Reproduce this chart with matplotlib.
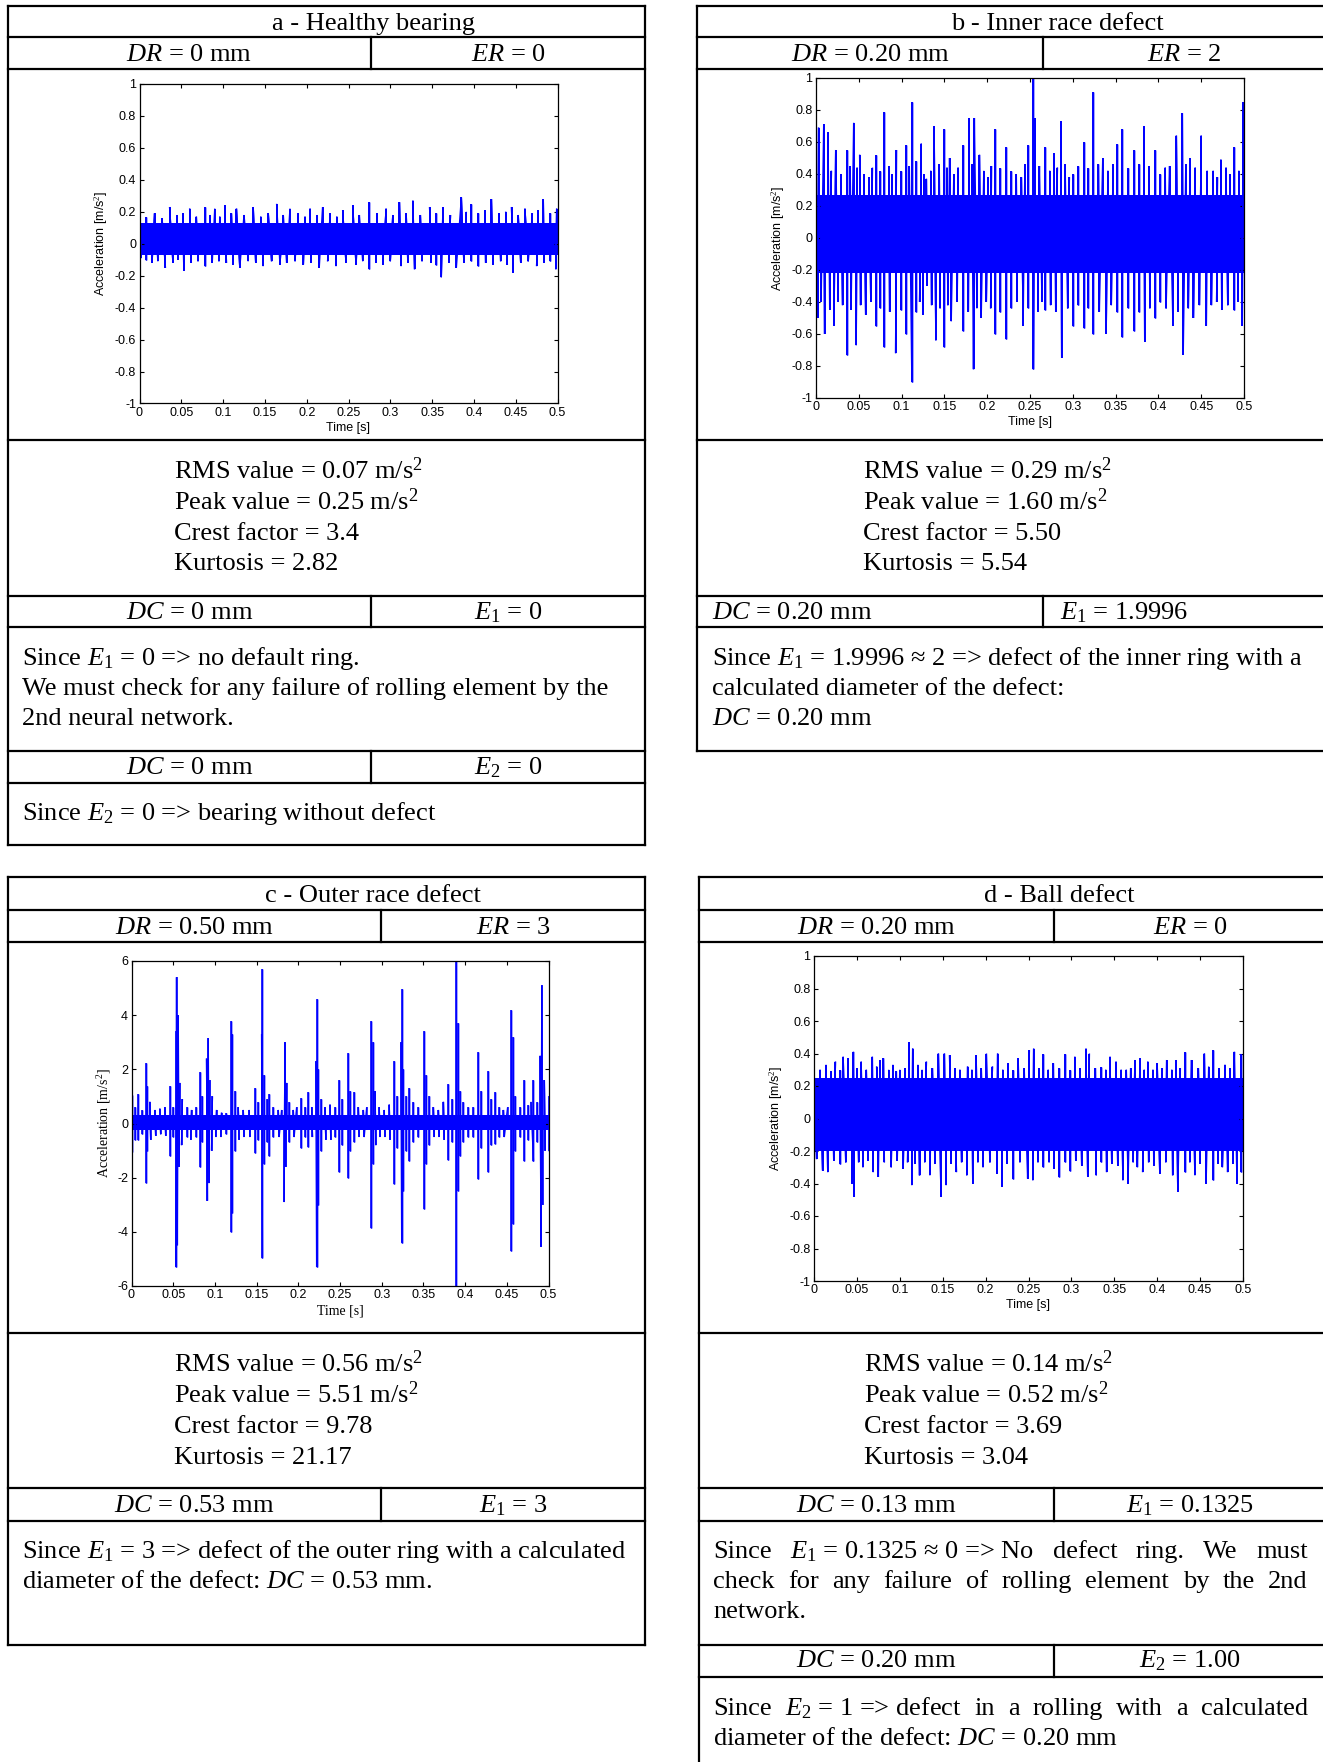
import matplotlib
matplotlib.use("Agg")
import matplotlib.pyplot as plt
from matplotlib.collections import LineCollection
from matplotlib.ticker import FuncFormatter, MultipleLocator

plt.rcParams["axes.unicode_minus"] = False
plt.rcParams["mathtext.fontset"] = "custom"
plt.rcParams["mathtext.rm"] = "Liberation Serif"
plt.rcParams["mathtext.it"] = "Liberation Serif:italic"
plt.rcParams["mathtext.bf"] = "Liberation Serif:bold"

W, H = 1323, 1762

# ---- table contents ----
titles = ["a - Healthy bearing", "b - Inner race defect",
          "c - Outer race defect", "d - Ball defect"]
dr_vals = ["0 mm", "0.20 mm", "0.50 mm", "0.20 mm"]
er_vals = ["0", "2", "3", "0"]
rms_vals = ["0.07", "0.29", "0.56", "0.14"]
peak_vals = ["0.25", "1.60", "5.51", "0.52"]
crest_vals = ["3.4", "5.50", "9.78", "3.69"]
kurt_vals = ["2.82", "5.54", "21.17", "3.04"]
dc1_vals = ["0 mm", "0.20 mm", "0.53 mm", "0.13 mm"]
e1_vals = ["0", "1.9996", "3", "0.1325"]

# ---- signals: (time [s], acceleration) ----
# solid centre band of each record (low, high)
a_core = (-0.07, 0.13)
b_core = (-0.22, 0.27)
c_core = (-0.25, 0.30)
d_core = (-0.20, 0.25)

a_up = [(0.000, 0.24), (0.008, 0.17), (0.018, 0.19), (0.027, 0.16), (0.036, 0.23),
        (0.045, 0.18), (0.052, 0.19), (0.060, 0.22), (0.068, 0.17), (0.078, 0.23),
        (0.084, 0.18), (0.090, 0.22), (0.096, 0.17), (0.102, 0.24), (0.110, 0.19),
        (0.116, 0.22), (0.125, 0.18), (0.136, 0.23), (0.145, 0.17), (0.154, 0.19),
        (0.164, 0.25), (0.172, 0.18), (0.180, 0.22), (0.190, 0.19), (0.198, 0.17),
        (0.204, 0.22), (0.212, 0.18), (0.219, 0.23), (0.228, 0.19), (0.236, 0.17),
        (0.243, 0.21), (0.255, 0.24), (0.263, 0.18), (0.275, 0.26), (0.284, 0.19),
        (0.295, 0.22), (0.303, 0.18), (0.311, 0.26), (0.319, 0.19), (0.327, 0.27),
        (0.336, 0.18), (0.347, 0.23), (0.355, 0.19), (0.363, 0.23), (0.372, 0.18),
        (0.385, 0.29), (0.391, 0.20), (0.397, 0.25), (0.405, 0.19), (0.413, 0.21),
        (0.421, 0.28), (0.430, 0.19), (0.438, 0.20), (0.445, 0.23), (0.453, 0.18),
        (0.461, 0.22), (0.470, 0.19), (0.477, 0.21), (0.483, 0.28), (0.491, 0.19),
        (0.499, 0.22)]
a_dn = [(0.002, -0.09), (0.008, -0.10), (0.015, -0.12), (0.022, -0.11), (0.031, -0.15),
        (0.040, -0.12), (0.046, -0.10), (0.053, -0.17), (0.062, -0.12), (0.070, -0.11),
        (0.078, -0.14), (0.087, -0.12), (0.095, -0.11), (0.104, -0.12), (0.112, -0.13),
        (0.120, -0.15), (0.130, -0.11), (0.139, -0.12), (0.148, -0.14), (0.158, -0.11),
        (0.168, -0.13), (0.176, -0.12), (0.186, -0.11), (0.196, -0.13), (0.205, -0.12),
        (0.215, -0.15), (0.225, -0.11), (0.235, -0.14), (0.247, -0.12), (0.259, -0.13),
        (0.267, -0.11), (0.275, -0.16), (0.283, -0.12), (0.291, -0.13), (0.300, -0.11),
        (0.313, -0.14), (0.321, -0.12), (0.329, -0.16), (0.338, -0.11), (0.349, -0.12),
        (0.355, -0.13), (0.361, -0.21), (0.370, -0.12), (0.379, -0.15), (0.388, -0.12),
        (0.397, -0.11), (0.405, -0.14), (0.414, -0.12), (0.423, -0.13), (0.432, -0.11),
        (0.440, -0.13), (0.447, -0.18), (0.456, -0.12), (0.465, -0.11), (0.475, -0.14),
        (0.484, -0.12), (0.491, -0.11), (0.498, -0.16)]

b_up = [(0.003, 0.69), (0.009, 0.71), (0.014, 0.66), (0.018, 0.42), (0.023, 0.55),
        (0.029, 0.40), (0.036, 0.55), (0.040, 0.45), (0.044, 0.72), (0.048, 0.44),
        (0.051, 0.52), (0.056, 0.40), (0.062, 0.38), (0.066, 0.44), (0.070, 0.52),
        (0.075, 0.42), (0.080, 0.79), (0.085, 0.45), (0.089, 0.40), (0.094, 0.55),
        (0.099, 0.42), (0.105, 0.58), (0.109, 0.45), (0.112, 0.85), (0.117, 0.48),
        (0.123, 0.59), (0.126, 0.40), (0.129, 0.37), (0.134, 0.42), (0.138, 0.70),
        (0.144, 0.46), (0.150, 0.68), (0.153, 0.44), (0.156, 0.50), (0.161, 0.40),
        (0.166, 0.44), (0.172, 0.58), (0.179, 0.75), (0.182, 0.46), (0.185, 0.75),
        (0.191, 0.52), (0.196, 0.42), (0.201, 0.38), (0.205, 0.45), (0.209, 0.68),
        (0.215, 0.44), (0.222, 0.57), (0.228, 0.42), (0.234, 0.40), (0.240, 0.38),
        (0.244, 0.46), (0.248, 0.58), (0.254, 1.00), (0.256, 0.75), (0.261, 0.45),
        (0.268, 0.57), (0.273, 0.42), (0.278, 0.53), (0.282, 0.44), (0.286, 0.73),
        (0.291, 0.46), (0.296, 0.38), (0.300, 0.40), (0.306, 0.45), (0.313, 0.60),
        (0.318, 0.44), (0.324, 0.91), (0.330, 0.46), (0.335, 0.50), (0.341, 0.42),
        (0.347, 0.46), (0.352, 0.59), (0.358, 0.68), (0.364, 0.44), (0.371, 0.55),
        (0.377, 0.46), (0.383, 0.70), (0.389, 0.45), (0.396, 0.55), (0.402, 0.40),
        (0.408, 0.44), (0.413, 0.45), (0.421, 0.64), (0.428, 0.78), (0.432, 0.46),
        (0.437, 0.50), (0.443, 0.44), (0.450, 0.64), (0.457, 0.42), (0.464, 0.42),
        (0.469, 0.38), (0.473, 0.49), (0.479, 0.44), (0.484, 0.40), (0.488, 0.57),
        (0.494, 0.42), (0.499, 0.85)]
b_dn = [(0.002, -0.50), (0.006, -0.40), (0.010, -0.60), (0.016, -0.45), (0.021, -0.55),
        (0.026, -0.40), (0.031, -0.42), (0.036, -0.73), (0.041, -0.45), (0.047, -0.67),
        (0.052, -0.42), (0.058, -0.48), (0.064, -0.40), (0.070, -0.55), (0.075, -0.44),
        (0.080, -0.68), (0.086, -0.46), (0.093, -0.72), (0.099, -0.45), (0.105, -0.60),
        (0.112, -0.90), (0.117, -0.46), (0.121, -0.40), (0.125, -0.48), (0.130, -0.30),
        (0.135, -0.42), (0.140, -0.64), (0.145, -0.44), (0.150, -0.68), (0.154, -0.42),
        (0.158, -0.52), (0.165, -0.40), (0.172, -0.58), (0.178, -0.46), (0.184, -0.82),
        (0.188, -0.44), (0.193, -0.50), (0.199, -0.40), (0.204, -0.44), (0.209, -0.60),
        (0.215, -0.46), (0.222, -0.63), (0.228, -0.44), (0.235, -0.40), (0.242, -0.55),
        (0.248, -0.44), (0.254, -0.82), (0.259, -0.46), (0.264, -0.40), (0.268, -0.45),
        (0.274, -0.42), (0.280, -0.46), (0.287, -0.75), (0.294, -0.44), (0.300, -0.55),
        (0.306, -0.42), (0.313, -0.56), (0.318, -0.44), (0.324, -0.60), (0.331, -0.46),
        (0.339, -0.60), (0.345, -0.42), (0.352, -0.46), (0.358, -0.62), (0.364, -0.44),
        (0.371, -0.58), (0.377, -0.46), (0.384, -0.65), (0.390, -0.44), (0.396, -0.50),
        (0.402, -0.40), (0.409, -0.44), (0.417, -0.55), (0.423, -0.46), (0.429, -0.73),
        (0.435, -0.44), (0.441, -0.50), (0.448, -0.42), (0.456, -0.55), (0.462, -0.42),
        (0.468, -0.40), (0.474, -0.45), (0.481, -0.42), (0.488, -0.45), (0.493, -0.40),
        (0.498, -0.55)]

c_up = [(0.000, 1.05), (0.004, 0.60), (0.008, 1.10), (0.012, 0.50), (0.017, 2.25),
        (0.019, 1.40), (0.022, 0.80), (0.028, 0.50), (0.034, 0.55), (0.040, 0.60),
        (0.046, 1.40), (0.050, 0.60), (0.053, 3.40), (0.054, 5.40), (0.056, 4.00),
        (0.058, 1.50), (0.061, 0.90), (0.066, 0.60), (0.072, 0.50), (0.077, 0.60),
        (0.082, 1.90), (0.085, 1.00), (0.090, 2.40), (0.092, 3.15), (0.094, 1.60),
        (0.097, 1.00), (0.102, 0.50), (0.108, 0.40), (0.113, 0.40), (0.119, 3.80),
        (0.121, 3.30), (0.124, 1.20), (0.128, 0.60), (0.134, 0.50), (0.141, 0.50),
        (0.148, 1.30), (0.152, 0.80), (0.156, 3.30), (0.157, 5.70), (0.159, 1.80),
        (0.162, 0.90), (0.165, 1.10), (0.170, 0.60), (0.176, 0.50), (0.180, 0.50),
        (0.184, 3.00), (0.186, 1.50), (0.189, 0.80), (0.194, 0.50), (0.198, 0.60),
        (0.203, 0.95), (0.208, 0.60), (0.212, 1.15), (0.216, 0.60), (0.221, 2.30),
        (0.222, 4.60), (0.224, 2.00), (0.227, 0.90), (0.232, 0.60), (0.238, 0.70),
        (0.244, 0.60), (0.249, 1.60), (0.252, 0.90), (0.259, 2.60), (0.262, 1.20),
        (0.267, 1.15), (0.272, 0.60), (0.278, 0.50), (0.282, 0.60), (0.287, 3.80),
        (0.289, 3.00), (0.292, 1.20), (0.297, 0.60), (0.303, 0.50), (0.309, 0.70),
        (0.315, 2.30), (0.318, 1.00), (0.323, 3.00), (0.324, 4.95), (0.326, 2.00),
        (0.329, 1.00), (0.333, 1.30), (0.338, 0.80), (0.344, 0.60), (0.351, 3.40),
        (0.353, 1.80), (0.357, 1.00), (0.362, 0.60), (0.368, 0.50), (0.374, 0.80),
        (0.380, 1.45), (0.384, 0.90), (0.389, 6.00), (0.391, 3.70), (0.394, 1.20),
        (0.398, 0.80), (0.404, 0.60), (0.410, 0.60), (0.416, 2.65), (0.419, 1.20),
        (0.427, 1.95), (0.431, 0.90), (0.436, 1.15), (0.441, 0.60), (0.446, 0.50),
        (0.451, 0.60), (0.455, 4.20), (0.457, 3.20), (0.460, 1.00), (0.466, 0.60),
        (0.471, 1.60), (0.475, 0.70), (0.479, 0.80), (0.482, 1.60), (0.486, 0.80),
        (0.490, 2.50), (0.492, 5.10), (0.495, 1.60), (0.500, 1.00)]
c_dn = [(0.000, -1.05), (0.004, -0.60), (0.008, -0.60), (0.012, -0.40), (0.017, -2.20),
        (0.019, -1.00), (0.023, -0.60), (0.029, -0.45), (0.035, -0.40), (0.041, -0.45),
        (0.046, -1.20), (0.050, -0.50), (0.053, -5.30), (0.055, -4.50), (0.057, -1.60),
        (0.060, -0.80), (0.066, -0.50), (0.071, -0.60), (0.077, -0.50), (0.082, -1.60),
        (0.085, -0.70), (0.091, -2.85), (0.093, -2.20), (0.096, -1.00), (0.101, -0.50),
        (0.107, -0.50), (0.113, -0.40), (0.119, -4.00), (0.121, -3.30), (0.124, -1.00),
        (0.129, -0.60), (0.135, -0.50), (0.142, -0.50), (0.148, -1.10), (0.152, -0.60),
        (0.157, -4.95), (0.159, -1.50), (0.162, -0.70), (0.165, -1.20), (0.170, -0.50),
        (0.177, -0.50), (0.183, -2.90), (0.185, -1.60), (0.189, -0.70), (0.195, -0.50),
        (0.203, -0.90), (0.208, -0.50), (0.212, -0.85), (0.217, -0.50), (0.222, -5.30),
        (0.224, -3.00), (0.227, -1.00), (0.233, -0.60), (0.239, -0.60), (0.244, -0.50),
        (0.249, -1.80), (0.252, -0.80), (0.259, -2.00), (0.262, -1.00), (0.267, -0.70),
        (0.273, -0.50), (0.279, -0.50), (0.287, -3.85), (0.289, -1.50), (0.293, -0.80),
        (0.298, -0.50), (0.304, -0.50), (0.310, -0.60), (0.315, -2.25), (0.318, -0.90),
        (0.324, -4.40), (0.326, -2.50), (0.329, -1.00), (0.333, -1.40), (0.338, -0.70),
        (0.344, -0.50), (0.351, -3.15), (0.353, -1.50), (0.357, -0.80), (0.363, -0.50),
        (0.369, -0.50), (0.375, -0.60), (0.380, -1.35), (0.384, -0.70), (0.389, -6.00),
        (0.391, -2.50), (0.394, -1.20), (0.398, -0.70), (0.404, -0.50), (0.410, -0.50),
        (0.416, -2.05), (0.419, -0.90), (0.427, -1.80), (0.431, -0.80), (0.436, -0.75),
        (0.441, -0.50), (0.447, -0.50), (0.455, -4.70), (0.457, -3.70), (0.460, -1.00),
        (0.466, -0.50), (0.471, -1.40), (0.475, -0.60), (0.482, -1.40), (0.486, -0.70),
        (0.491, -4.55), (0.493, -3.00), (0.496, -1.00), (0.500, -1.00)]

d_up = [(0.001, 0.24), (0.007, 0.30), (0.014, 0.33), (0.020, 0.29), (0.025, 0.35),
        (0.030, 0.30), (0.034, 0.38), (0.040, 0.37), (0.046, 0.41), (0.050, 0.31),
        (0.055, 0.35), (0.061, 0.30), (0.068, 0.38), (0.073, 0.32), (0.077, 0.36),
        (0.081, 0.37), (0.087, 0.30), (0.092, 0.33), (0.096, 0.29), (0.100, 0.30),
        (0.106, 0.31), (0.111, 0.47), (0.115, 0.43), (0.121, 0.33), (0.126, 0.30),
        (0.131, 0.35), (0.138, 0.31), (0.145, 0.40), (0.152, 0.40), (0.158, 0.39),
        (0.164, 0.31), (0.170, 0.30), (0.179, 0.32), (0.184, 0.30), (0.189, 0.39),
        (0.195, 0.31), (0.201, 0.40), (0.208, 0.32), (0.214, 0.40), (0.220, 0.30),
        (0.226, 0.34), (0.232, 0.30), (0.238, 0.37), (0.245, 0.31), (0.251, 0.42),
        (0.256, 0.43), (0.262, 0.31), (0.267, 0.40), (0.273, 0.30), (0.279, 0.34),
        (0.286, 0.31), (0.292, 0.40), (0.298, 0.30), (0.304, 0.38), (0.310, 0.31),
        (0.317, 0.43), (0.321, 0.40), (0.328, 0.31), (0.335, 0.32), (0.340, 0.30),
        (0.345, 0.38), (0.352, 0.35), (0.358, 0.30), (0.364, 0.30), (0.369, 0.31),
        (0.374, 0.36), (0.380, 0.37), (0.385, 0.30), (0.389, 0.35), (0.395, 0.30),
        (0.400, 0.34), (0.406, 0.31), (0.411, 0.36), (0.417, 0.30), (0.422, 0.36),
        (0.427, 0.31), (0.432, 0.41), (0.440, 0.36), (0.448, 0.31), (0.455, 0.40),
        (0.460, 0.32), (0.465, 0.42), (0.472, 0.31), (0.479, 0.33), (0.485, 0.31),
        (0.490, 0.41), (0.498, 0.40)]
d_dn = [(0.003, -0.25), (0.010, -0.32), (0.016, -0.33), (0.023, -0.26), (0.030, -0.28),
        (0.037, -0.27), (0.044, -0.40), (0.047, -0.48), (0.052, -0.27), (0.057, -0.30),
        (0.063, -0.26), (0.069, -0.33), (0.075, -0.36), (0.082, -0.27), (0.090, -0.30),
        (0.097, -0.26), (0.104, -0.31), (0.109, -0.27), (0.114, -0.41), (0.118, -0.28),
        (0.123, -0.35), (0.129, -0.27), (0.135, -0.35), (0.141, -0.28), (0.148, -0.48),
        (0.154, -0.41), (0.160, -0.28), (0.166, -0.33), (0.172, -0.27), (0.178, -0.35),
        (0.185, -0.40), (0.191, -0.27), (0.197, -0.30), (0.205, -0.27), (0.213, -0.34),
        (0.219, -0.42), (0.225, -0.28), (0.232, -0.37), (0.240, -0.27), (0.249, -0.37),
        (0.255, -0.38), (0.261, -0.27), (0.267, -0.30), (0.274, -0.27), (0.280, -0.31),
        (0.286, -0.36), (0.292, -0.27), (0.298, -0.32), (0.305, -0.26), (0.312, -0.29),
        (0.319, -0.36), (0.329, -0.35), (0.335, -0.27), (0.341, -0.33), (0.347, -0.28),
        (0.354, -0.29), (0.360, -0.38), (0.366, -0.40), (0.372, -0.27), (0.377, -0.30),
        (0.383, -0.33), (0.390, -0.27), (0.396, -0.29), (0.403, -0.34), (0.410, -0.27),
        (0.418, -0.35), (0.424, -0.45), (0.432, -0.33), (0.438, -0.27), (0.444, -0.35),
        (0.450, -0.28), (0.457, -0.40), (0.465, -0.38), (0.471, -0.28), (0.476, -0.30),
        (0.482, -0.33), (0.488, -0.28), (0.493, -0.40), (0.498, -0.33)]


fig = plt.figure(figsize=(W / 100, H / 100), dpi=100)

# overlay in pixel units for the table frames and text
ov = fig.add_axes([0, 0, 1, 1])
ov.set_xlim(0, W)
ov.set_ylim(H, 0)
ov.axis("off")

TXT = dict(fontsize=19, family="Liberation Serif", va="baseline", color="black")
LW = 1.6


def hline(y, x0, x1):
	ov.plot([x0, x1], [y, y], color="black", lw=LW, solid_capstyle="projecting")


def vline(x, y0, y1):
	ov.plot([x, x], [y0, y1], color="black", lw=LW, solid_capstyle="projecting")


def put(x, y, s, ha="left"):
	return ov.text(x, y, s, ha=ha, **TXT)


# justify a line of chunks between x0 and x1
def justify(x0, x1, y, chunks):
	rend = fig.canvas.get_renderer()
	items = [put(0, y, c) for c in chunks]
	widths = [t.get_window_extent(rend).width for t in items]
	gap = (x1 - x0 - sum(widths)) / (len(items) - 1)
	x = x0
	for t, w in zip(items, widths):
		t.set_x(x)
		x += w + gap


def fmt(v, pos):
	return "%g" % round(v, 3)


def nearest(p, pool):
	return min(pool, key=lambda q: abs(q[0] - p[0]))


def signal(box, core, up, dn, ylim, ystep, serif=False, lw=1.4):
	l, r, t, b = box
	ax = fig.add_axes([l / W, 1 - b / H, (r - l) / W, (b - t) / H])
	ax.fill_between([0, 0.5], core[0], core[1], color="#0000ff", lw=0)
	# each read peak is joined to the closest opposite peak, like the trace swing
	segs = [[p, nearest(p, dn)] for p in up] + [[p, nearest(p, up)] for p in dn]
	ax.add_collection(LineCollection(segs, colors="#0000ff", lw=1.0))
	ut, uv = zip(*up)
	dt, dv = zip(*dn)
	ax.vlines(ut, 0, uv, color="#0000ff", lw=lw)
	ax.vlines(dt, 0, dv, color="#0000ff", lw=lw)
	ax.set_xlim(0, 0.5)
	ax.set_ylim(-ylim, ylim)
	ax.xaxis.set_major_locator(MultipleLocator(0.05))
	ax.yaxis.set_major_locator(MultipleLocator(ystep))
	ax.xaxis.set_major_formatter(FuncFormatter(fmt))
	ax.yaxis.set_major_formatter(FuncFormatter(fmt))
	ax.tick_params(direction="in", top=True, right=True, length=3,
		       width=0.8, labelsize=9, pad=2.5, colors="black")
	for tl in ax.get_xticklabels() + ax.get_yticklabels():
		tl.set_family("Liberation Sans")
	for sp in ax.spines.values():
		sp.set_linewidth(0.9)
	lab = "Liberation Serif" if serif else "Liberation Sans"
	lsz = 10 if serif else 9
	ax.set_xlabel("Time [s]", family=lab, fontsize=lsz, labelpad=2)
	ax.set_ylabel("Acceleration [m/s$^2$]", family=lab, fontsize=lsz, labelpad=3)
	return ax


def stats(x, y0, i):
	lines = ["RMS value = %s m/s$^2$" % rms_vals[i],
		 "Peak value = %s m/s$^2$" % peak_vals[i],
		 "Crest factor = %s" % crest_vals[i],
		 "Kurtosis = %s" % kurt_vals[i]]
	for k, s in enumerate(lines):
		put(x, y0 + k * 30.5, s)


# ---------------- panel a ----------------
x0, x1, xd = 8, 645, 371
for y in [6, 37, 69, 440, 596, 627, 751, 783, 845]:
	hline(y, x0, x1)
vline(x0, 6, 845)
vline(x1, 6, 845)
for ya, yb in [(37, 69), (596, 627), (751, 783)]:
	vline(xd, ya, yb)
put(373, 30, titles[0], ha="center")
put((x0 + xd) / 2, 61, "$DR$ = " + dr_vals[0], ha="center")
put((xd + x1) / 2, 61, "$ER$ = " + er_vals[0], ha="center")
signal((139.5, 557.5, 84, 403.5), a_core, a_up, a_dn, 1, 0.2)
stats(174, 479, 0)
put((x0 + xd) / 2, 619, "$DC$ = " + dc1_vals[0], ha="center")
put((xd + x1) / 2, 619, "$E_1$ = " + e1_vals[0], ha="center")
put(22, 665, "Since $E_1$ = 0 => no default ring.")
put(22, 695, "We must check for any failure of rolling element by the")
put(22, 725, "2nd neural network.")
put((x0 + xd) / 2, 774, "$DC$ = 0 mm", ha="center")
put((xd + x1) / 2, 774, "$E_2$ = 0", ha="center")
put(22, 820, "Since $E_2$ = 0 => bearing without defect")

# ---------------- panel b ----------------
x0, x1, xd = 697, 1326, 1043
for y in [6, 37, 69, 440, 596, 627, 751]:
	hline(y, x0, x1)
vline(x0, 6, 751)
vline(x1, 6, 751)
for ya, yb in [(37, 69), (596, 627)]:
	vline(xd, ya, yb)
put(1057, 30, titles[1], ha="center")
put((x0 + xd) / 2, 61, "$DR$ = " + dr_vals[1], ha="center")
put((xd + x1) / 2, 61, "$ER$ = " + er_vals[1], ha="center")
signal((816, 1244, 78, 398), b_core, b_up, b_dn, 1, 0.2)
stats(863, 479, 1)
put(712, 619, "$DC$ = " + dc1_vals[1])
put(1060, 619, "$E_1$ = " + e1_vals[1])
put(712, 665, "Since $E_1$ = 1.9996 \u2248 2 => defect of the inner ring with a")
put(712, 695, "calculated diameter of the defect:")
put(712, 725, "$DC$ = 0.20 mm")

# ---------------- panel c ----------------
x0, x1, xd = 8, 645, 381
for y in [877, 910, 942, 1333, 1488, 1521, 1645]:
	hline(y, x0, x1)
vline(x0, 877, 1645)
vline(x1, 877, 1645)
for ya, yb in [(910, 942), (1488, 1521)]:
	vline(xd, ya, yb)
put(373, 902, titles[2], ha="center")
put((x0 + xd) / 2, 934, "$DR$ = " + dr_vals[2], ha="center")
put((xd + x1) / 2, 934, "$ER$ = " + er_vals[2], ha="center")
signal((131.5, 548.5, 961, 1286), c_core, c_up, c_dn, 6, 2, serif=True, lw=1.1)
stats(174, 1372, 2)
put((x0 + xd) / 2, 1512, "$DC$ = " + dc1_vals[2], ha="center")
put((xd + x1) / 2, 1512, "$E_1$ = " + e1_vals[2], ha="center")
put(22, 1558, "Since $E_1$ = 3 => defect of the outer ring with a calculated")
put(22, 1588, "diameter of the defect: $DC$ = 0.53 mm.")

# ---------------- panel d ----------------
x0, x1, xd = 699, 1326, 1054
for y in [877, 910, 942, 1333, 1488, 1521, 1645, 1677]:
	hline(y, x0, x1)
vline(x0, 877, 1770)
vline(x1, 877, 1770)
for ya, yb in [(910, 942), (1488, 1521), (1645, 1677)]:
	vline(xd, ya, yb)
put(1059, 902, titles[3], ha="center")
put((x0 + xd) / 2, 934, "$DR$ = " + dr_vals[3], ha="center")
put((xd + x1) / 2, 934, "$ER$ = " + er_vals[3], ha="center")
signal((814, 1243, 956, 1281), d_core, d_up, d_dn, 1, 0.2)
stats(864, 1372, 3)
put((x0 + xd) / 2, 1512, "$DC$ = " + dc1_vals[3], ha="center")
put((xd + x1) / 2, 1512, "$E_1$ = " + e1_vals[3], ha="center")
justify(713, 1308, 1558, ["Since", "$E_1$ = 0.1325 \u2248 0 => No", "defect",
			  "ring.", "We", "must"])
justify(713, 1308, 1588, ["check", "for", "any", "failure", "of", "rolling",
			  "element", "by", "the", "2nd"])
put(713, 1618, "network.")
put((x0 + xd) / 2, 1667, "$DC$ = 0.20 mm", ha="center")
put((xd + x1) / 2, 1667, "$E_2$ = 1.00", ha="center")
justify(713, 1308, 1715, ["Since", "$E_2$ = 1 => defect", "in", "a", "rolling",
			  "with", "a", "calculated"])
put(713, 1745, "diameter of the defect: $DC$ = 0.20 mm")

fig.savefig("out.png", dpi=100)
